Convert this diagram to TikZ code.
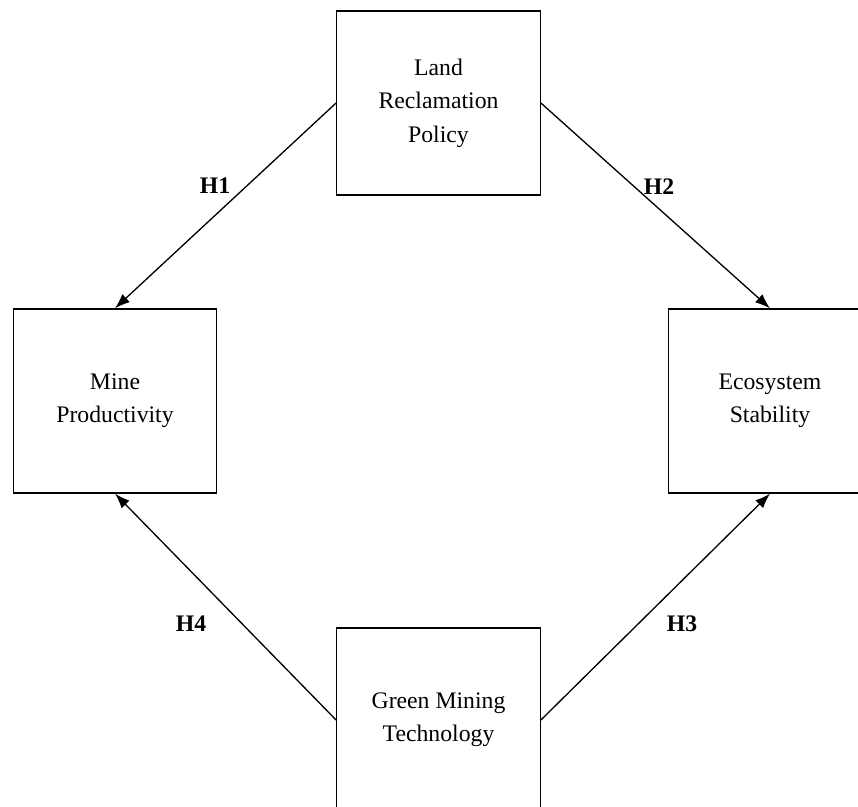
\documentclass[tikz,border=0pt]{standalone}
\usepackage{fontspec}
\setmainfont{Liberation Serif}
\usepackage{tikz}
\usetikzlibrary{arrows.meta}

\tikzset{
    factor/.style={draw, line width=0.75pt, minimum width=4.07cm, minimum height=3.68cm,
        inner sep=0pt, align=center, font=\fontsize{13.5}{19}\selectfont},
    hypo/.style={-{Latex[length=0.3cm,width=0.22cm]}, line width=0.75pt},
    hlabel/.style={font=\fontsize{13.5}{16}\selectfont\bfseries}
}

\begin{document}
\begin{tikzpicture}
    \useasboundingbox (0,0) rectangle (17.16,16.14);

    \node[factor] (land) at (8.77,14.08) {Land\\Reclamation\\Policy};
    \node[factor] (mine) at (2.30,8.12) {Mine\\Productivity};
    \node[factor] (eco) at (15.40,8.12) {Ecosystem\\Stability};
    \node[factor] (green) at (8.77,1.74) {Green Mining\\Technology};

    \draw[hypo] (land.west) -- (mine.north);
    \draw[hypo] (land.east) -- (eco.north);
    \draw[hypo] (green.east) -- (eco.south);
    \draw[hypo] (green.west) -- (mine.south);

    \node[hlabel] (h1) at (4.30,12.42) {H1};
    \node[hlabel] (h2) at (13.18,12.40) {H2};
    \node[hlabel] (h3) at (13.64,3.66) {H3};
    \node[hlabel] (h4) at (3.82,3.66) {H4};
\end{tikzpicture}
\end{document}
